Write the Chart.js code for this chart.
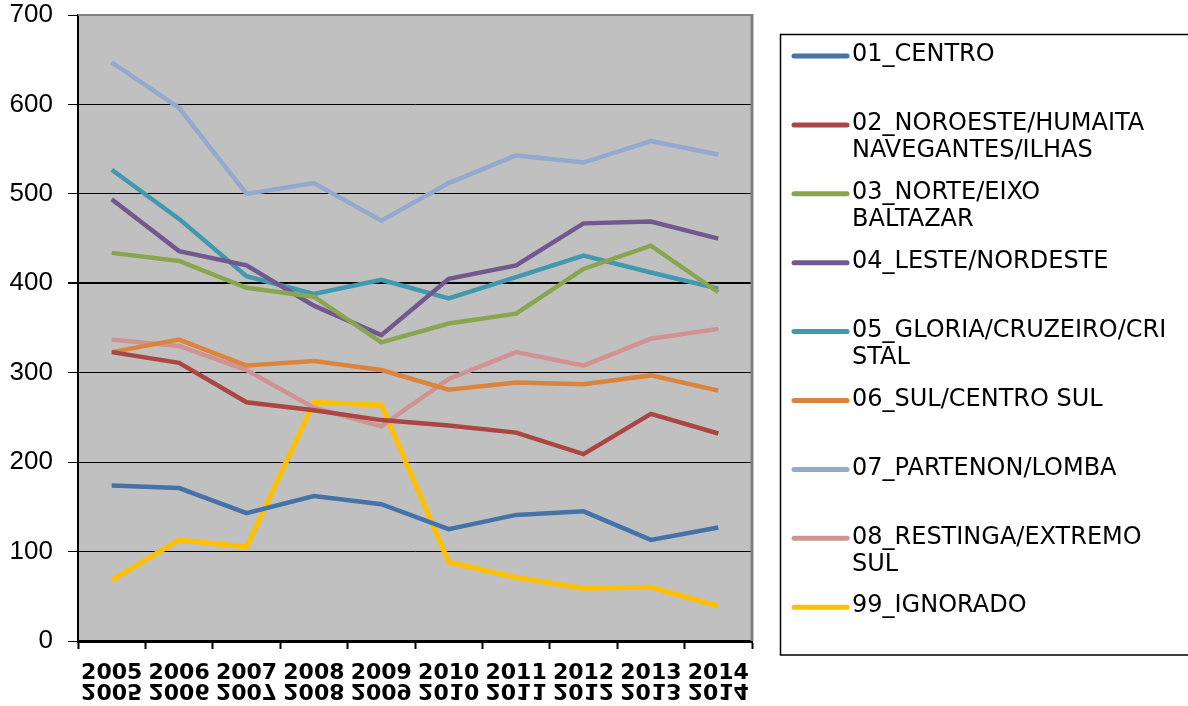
<!DOCTYPE html>
<html>
<head>
<meta charset="utf-8">
<script src="https://cdn.jsdelivr.net/npm/chart.js@4/dist/chart.umd.min.js"></script>
<style>
  html, body { margin: 0; padding: 0; background: #fff; }
  #wrap { width: 1188px; height: 706px; position: relative; }
</style>
</head>
<body>
<div id="wrap"><canvas id="chart" width="1188" height="706"></canvas></div>
<script>
const years = ['2005', '2006', '2007', '2008', '2009', '2010', '2011', '2012', '2013', '2014'];
const yTicks = [0, 100, 200, 300, 400, 500, 600, 700];

const centro    = [174, 171, 143, 162, 153, 125, 141, 145, 113, 127];
const noroeste  = [323, 311, 267, 258, 247, 241, 233, 209, 254, 232];
const norte     = [434, 425, 395, 385, 334, 355, 366, 416, 442, 390];
const leste     = [494, 436, 420, 375, 342, 405, 420, 467, 469, 450];
const gloria    = [527, 472, 408, 388, 404, 383, 407, 431, 412, 394];
const sul       = [323, 337, 308, 313, 303, 281, 289, 287, 297, 280];
const partenon  = [647, 596, 500, 512, 470, 512, 543, 535, 559, 544];
const restinga  = [337, 330, 303, 261, 240, 293, 323, 308, 338, 349];
const ignorado  = [68, 113, 105, 267, 264, 88, 71, 59, 60, 39];

const legendLines = [
    ['01_CENTRO'],
    ['02_NOROESTE/HUMAITA', 'NAVEGANTES/ILHAS'],
    ['03_NORTE/EIXO', 'BALTAZAR'],
    ['04_LESTE/NORDESTE'],
    ['05_GLORIA/CRUZEIRO/CRI', 'STAL'],
    ['06_SUL/CENTRO SUL'],
    ['07_PARTENON/LOMBA'],
    ['08_RESTINGA/EXTREMO', 'SUL'],
    ['99_IGNORADO']
];

const seriesValues = [centro, noroeste, norte, leste, gloria, sul, partenon, restinga, ignorado];
const colors = ['#4572a7', '#aa4643', '#89a54e', '#71588f', '#4198af', '#db843d', '#93a9cf', '#d19392', '#ffc000'];

const datasets = seriesValues.map((vals, i) => ({
    label: legendLines[i].join(i === 4 ? '' : ' '),
    data: vals,
    borderColor: colors[i],
    backgroundColor: colors[i],
    borderWidth: i === 8 ? 5 : 4.5,
    pointRadius: 0,
    tension: 0,
    fill: false
}));

const plotBackground = {
    id: 'plotBackground',
    beforeDraw(chart) {
        const { ctx, chartArea: a } = chart;
        ctx.save();
        ctx.fillStyle = '#ffffff';
        ctx.fillRect(0, 0, chart.width, chart.height);
        ctx.fillStyle = '#c0c0c0';
        ctx.fillRect(a.left, a.top, a.right - a.left, a.bottom - a.top);
        ctx.restore();
    },
    afterDraw(chart) {
        const { ctx, chartArea: a } = chart;
        ctx.save();
        ctx.strokeStyle = '#808080';
        ctx.lineWidth = 2;
        ctx.beginPath();
        ctx.moveTo(a.left, a.top);
        ctx.lineTo(a.right, a.top);
        ctx.stroke();
        ctx.lineWidth = 3;
        ctx.beginPath();
        ctx.moveTo(a.right, a.top - 1);
        ctx.lineTo(a.right, a.bottom);
        ctx.stroke();
        ctx.restore();
    }
};

// reflected copy of the year labels under the axis
const mirrorLabels = {
    id: 'mirrorLabels',
    afterDraw(chart) {
        const { ctx } = chart;
        const xs = chart.scales.x;
        ctx.save();
        ctx.beginPath();
        ctx.rect(0, 682, chart.width, 19);
        ctx.clip();
        ctx.font = 'bold 22px "DejaVu Sans"';
        ctx.fillStyle = '#000';
        ctx.textAlign = 'center';
        ctx.textBaseline = 'alphabetic';
        ctx.scale(1, -1);
        xs.ticks.forEach((t, i) => {
            ctx.fillText(xs.getLabelForValue(t.value), xs.getPixelForTick(i), -684);
        });
        ctx.restore();
    }
};

const sideLegend = {
    id: 'sideLegend',
    afterDraw(chart) {
        const { ctx } = chart;
        ctx.save();
        ctx.strokeStyle = '#000';
        ctx.lineWidth = 1.5;
        ctx.strokeRect(780.5, 34.5, 430, 620.5);

        ctx.font = '24px "DejaVu Sans"';
        ctx.fillStyle = '#000';
        ctx.textBaseline = 'middle';
        ctx.textAlign = 'left';
        chart.data.datasets.forEach((ds, i) => {
            const y = 56 + i * 68.9;
            ctx.strokeStyle = ds.borderColor;
            ctx.lineWidth = 5;
            ctx.lineCap = 'round';
            ctx.beginPath();
            ctx.moveTo(794, y);
            ctx.lineTo(847, y);
            ctx.stroke();
            legendLines[i].forEach((line, j) => {
                ctx.fillText(line, 852, y - 1 + j * 27);
            });
        });
        ctx.restore();
    }
};

new Chart(document.getElementById('chart'), {
    type: 'line',
    data: {
        labels: years,
        datasets: datasets
    },
    options: {
        responsive: false,
        animation: false,
        layout: {
            padding: { left: 0, right: 436, top: 15, bottom: 0 }
        },
        plugins: {
            legend: { display: false },
            tooltip: { enabled: false }
        },
        scales: {
            x: {
                offset: true,
                afterFit: (scale) => {
                    scale.height = 65;
                    scale.paddingLeft = 0;
                    scale.paddingRight = 0;
                },
                grid: {
                    offset: true,
                    drawOnChartArea: false,
                    drawTicks: true,
                    tickLength: 8,
                    tickWidth: 2,
                    color: '#000'
                },
                border: { color: '#000', width: 3 },
                ticks: {
                    color: '#000',
                    padding: 11,
                    maxRotation: 0,
                    autoSkip: false,
                    font: { family: 'DejaVu Sans', size: 22, weight: 'bold' }
                }
            },
            y: {
                min: 0,
                max: 700,
                afterFit: (scale) => {
                    scale.width = 78;
                    scale.paddingTop = 0;
                    scale.paddingBottom = 0;
                },
                afterBuildTicks: (scale) => {
                    scale.ticks = yTicks.map(v => ({ value: v }));
                },
                grid: {
                    color: (c) => c.tick && c.tick.value === 700 ? '#808080' : '#000',
                    lineWidth: (c) => c.tick && c.tick.value === 400 ? 2 : 1,
                    tickColor: '#000',
                    tickLength: 10
                },
                border: { color: '#000', width: 2 },
                ticks: {
                    color: '#000',
                    padding: 15,
                    font: { family: 'Liberation Sans', size: 26 }
                }
            }
        }
    },
    plugins: [plotBackground, mirrorLabels, sideLegend]
});
</script>
</body>
</html>
